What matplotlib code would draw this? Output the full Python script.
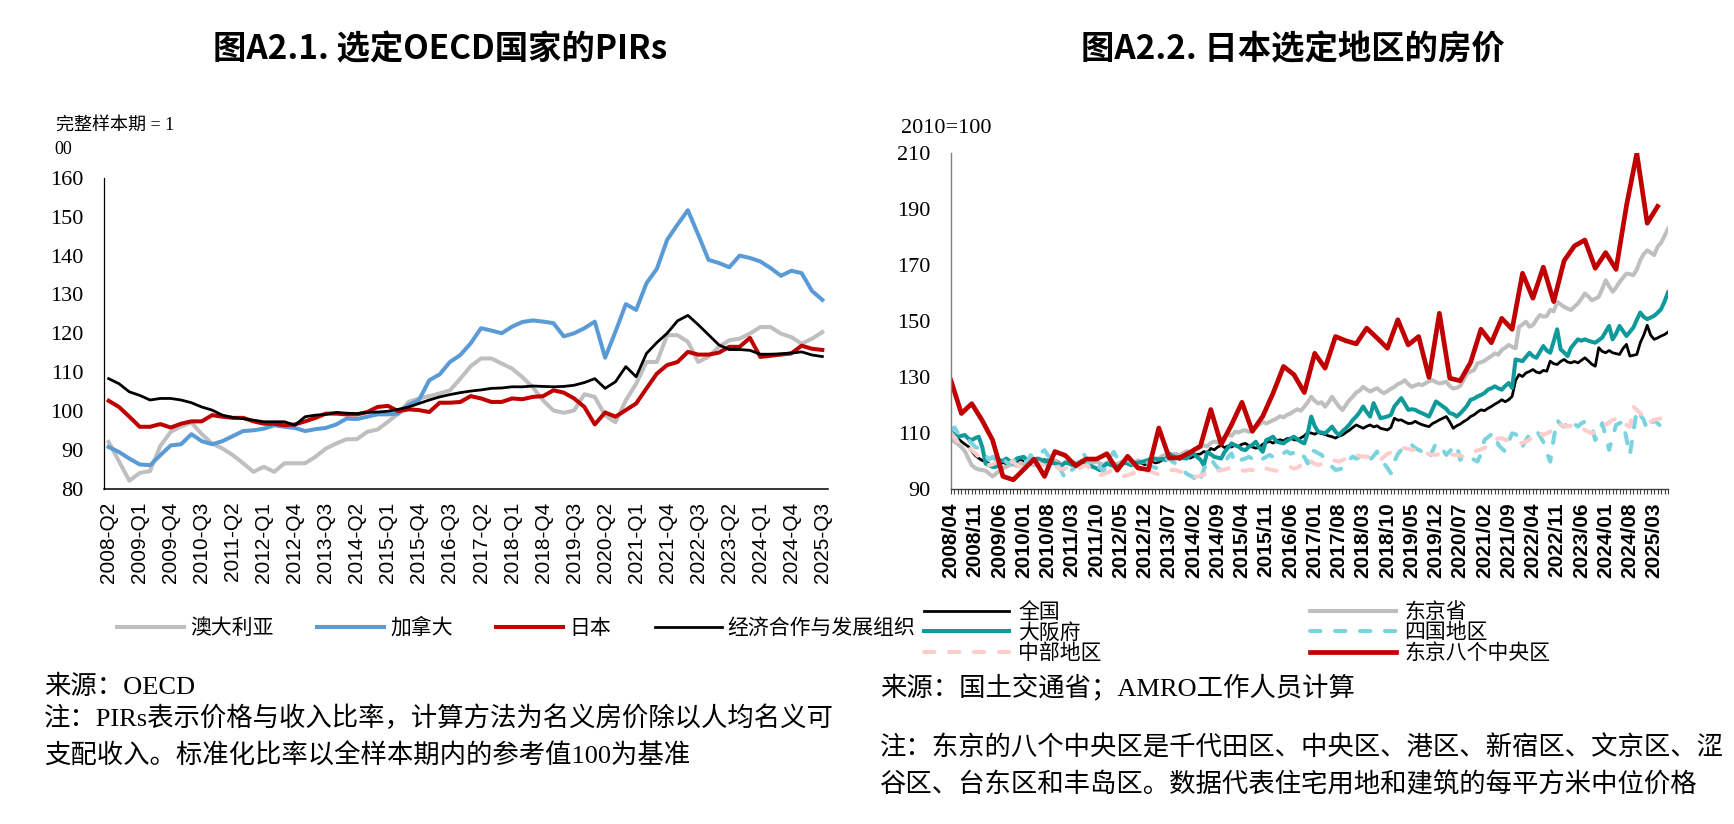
import matplotlib
matplotlib.use("Agg")
import numpy as np
import matplotlib.pyplot as plt

CJK = 'Noto Sans CJK SC'
SERIF_MIX = ['Liberation Serif', CJK]
plt.rcParams['font.family'] = [CJK, 'DejaVu Sans']

# ---------------- data: Fig A2.1 (quarterly, 2008-Q2 .. 2025-Q3) ----------------
left_tick_labels = ['2008-Q2', '2009-Q1', '2009-Q4', '2010-Q3', '2011-Q2', '2012-Q1',
                    '2012-Q4', '2013-Q3', '2014-Q2', '2015-Q1', '2015-Q4', '2016-Q3',
                    '2017-Q2', '2018-Q1', '2018-Q4', '2019-Q3', '2020-Q2', '2021-Q1',
                    '2021-Q4', '2022-Q3', '2023-Q2', '2024-Q1', '2024-Q4', '2025-Q3']
left_names = ['澳大利亚', '加拿大', '日本', '经济合作与发展组织']

australia = [92, 87, 82, 84, 84.5, 91, 94.6, 96, 97, 94,
             91.6, 90.3, 88.6, 86.5, 84.3, 85.6, 84.3, 86.5, 86.5, 86.5,
             88.2, 90.3, 91.6, 92.7, 92.7, 94.6, 95.2, 97.2, 99.3, 102.3,
             103.2, 103.8, 104.5, 105.3, 108.3, 111.5, 113.5, 113.5, 112.2, 110.9,
             108.7, 106.1, 102.7, 100.1, 99.5, 100.1, 104.3, 103.6, 98.8, 97.1,
             102.7, 107, 112.6, 112.6, 119.5, 119.5, 117.8, 112.6, 114.0, 116.5,
             118.2, 118.6, 119.9, 121.6, 121.6, 119.9, 119.0, 117.3, 118.6, 120.3]
canada = [90.7, 89.4, 87.7, 86.2, 86, 88.6, 91.1, 91.4, 94, 92.2,
          91.4, 92.2, 93.5, 94.8, 95, 95.4, 96.3, 95.9, 95.6, 94.8,
          95.3, 95.6, 96.5, 98, 97.9, 98.5, 99.1, 99.1, 99.3, 101.5,
          102.8, 107.9, 109.4, 112.6, 114.4, 117.4, 121.3, 120.7, 120, 121.7,
          122.9, 123.3, 123, 122.6, 119.2, 120, 121.3, 123, 113.7, 120.4,
          127.5, 126, 132.9, 136.6, 144.1, 148, 151.7, 145.4, 138.9, 138.1,
          137, 140, 139.4, 138.5, 136.8, 134.8, 136.1, 135.5, 130.9, 128.6]
japan = [102.6, 101, 98.5, 95.9, 95.9, 96.6, 95.7, 96.7, 97.3, 97.3,
         98.9, 98.5, 98.2, 98.2, 97.3, 96.7, 96.7, 96.3, 96.5, 97.3,
         98.2, 99.3, 99.3, 99.1, 99.1, 99.7, 101, 101.3, 99.9, 100.4,
         100.2, 99.7, 102.1, 102.1, 102.3, 103.8, 103.2, 102.3, 102.3, 103.2,
         103, 103.6, 103.8, 105.3, 104.7, 103.2, 101, 96.5, 99.6, 98.5,
         100.2, 101.9, 105.8, 109.6, 111.8, 112.6, 115.2, 114.5, 114.5, 115,
         116.5, 116.5, 118.8, 113.9, 114.2, 114.5, 114.8, 116.8, 116, 115.7]
oecd = [108.3, 107, 104.9, 104, 102.8, 103.2, 103.2, 102.8, 102.1, 101,
        100.2, 98.9, 98.3, 98, 97.6, 97.2, 97.2, 97.2, 96.3, 98.5,
        98.9, 99.1, 99.6, 99.4, 99.3, 99.6, 99.7, 99.9, 100.4, 101,
        101.9, 102.8, 103.6, 104.2, 104.7, 105.1, 105.4, 105.8, 105.9, 106.2,
        106.2, 106.4, 106.3, 106.2, 106.3, 106.6, 107.3, 108.3, 105.8, 107.5,
        111.4, 108.8, 114.8, 117.6, 120, 123.2, 124.6, 122.2, 119.6, 117,
        115.8, 115.8, 115.6, 114.6, 114.6, 114.7, 114.9, 115.2, 114.4, 114.0]

# ---------------- data: Fig A2.2 (monthly from 2008/04) ----------------
right_tick_labels = ['2008/04', '2008/11', '2009/06', '2010/01', '2010/08', '2011/03',
                     '2011/10', '2012/05', '2012/12', '2013/07', '2014/02', '2014/09',
                     '2015/04', '2015/11', '2016/06', '2017/01', '2017/08', '2018/03',
                     '2018/10', '2019/05', '2019/12', '2020/07', '2021/02', '2021/09',
                     '2022/04', '2022/11', '2023/06', '2024/01', '2024/08', '2025/03']
right_names = ['全国', '东京省', '大阪府', '四国地区', '中部地区', '东京八个中央区']

national = [109.5, 108.8, 108.0, 107.0, 106.0, 105.2, 103.5, 102.0, 101.0, 100.2, 99.8, 99.0,
            98.3, 98.0, 98.8, 99.5, 99.0, 100.2, 99.6, 99.0, 100.4, 99.8, 99.3, 100.6,
            100.0, 99.2, 99.8, 100.5, 99.4, 99.0, 100.2, 99.6, 98.8, 99.5, 100.1, 99.3,
            99.0, 99.8, 100.3, 99.4, 98.9, 99.6, 100.2, 99.1, 98.6, 99.4, 100.0, 99.2,
            98.8, 99.6, 100.1, 99.3, 98.9, 99.5, 99.8, 99.2, 98.7, 99.4, 100.0, 99.3,
            99.6, 100.4, 101.0, 100.6, 101.5, 102.0, 100.6, 101.2, 101.8, 101.0, 101.6, 102.4,
            102.5, 103.4, 102.8, 104.5, 104.0, 105.0, 105.6, 104.8, 105.4, 105.0, 105.8, 105.2,
            106.0, 106.3, 105.5, 105.0, 104.6, 104.9, 106.0, 106.6, 107.0, 106.4, 107.3, 107.6,
            107.2, 108.0, 108.2, 107.6, 107.5, 108.3, 109.0, 110.2, 110.0, 109.6, 110.2, 109.8,
            109.5, 109.0, 108.7, 108.2, 108.9, 109.3, 110.2, 111.0, 112.0, 112.9, 112.3, 111.7,
            112.4, 112.9, 112.2, 112.6, 111.7, 111.4, 111.1, 112.0, 115.3, 114.6, 114.7, 114.0,
            113.4, 113.5, 114.2, 113.5, 113.0, 112.6, 112.3, 113.4, 114.0, 114.7, 115.3, 115.9,
            114.0, 111.7, 112.6, 113.2, 114.1, 114.8, 115.9, 116.5, 117.5, 118.3, 118.0, 118.8,
            119.5, 120.3, 121.0, 121.9, 121.2, 121.9, 123.1, 128.8, 130.9, 130.2, 131.5, 132.0,
            132.7, 131.8, 131.5, 132.4, 132.1, 135.7, 134.8, 134.5, 135.6, 136.3, 135.4, 135.1,
            135.6, 135.1, 136.0, 136.9, 135.8, 134.6, 133.9, 140.5, 139.2, 138.7, 139.5, 138.7,
            138.4, 138.1, 140.2, 141.7, 137.5, 137.8, 138.1, 142.3, 145.0, 148.5, 145.0, 143.5,
            144.0, 144.7, 145.2, 146.1]
tokyo = [107.5, 107.0, 106.0, 105.0, 103.5, 101.0, 98.5, 97.5, 97.0, 96.8, 96.5, 95.5,
         94.5, 95.5, 96.5, 97.5, 98.0, 98.5, 99.0, 98.2, 99.4, 98.8, 99.6, 99.0,
         98.5, 99.3, 99.8, 99.0, 98.6, 99.5, 100.0, 99.2, 98.8, 99.6, 100.2, 99.4,
         98.9, 99.5, 100.0, 99.2, 98.7, 99.4, 99.9, 99.1, 98.6, 99.3, 99.8, 99.0,
         98.7, 99.4, 99.9, 99.1, 98.9, 99.6, 100.2, 99.5, 99.8, 100.6, 101.0, 100.4,
         101.0, 101.8, 102.2, 101.6, 102.3, 102.6, 102.0, 102.8, 103.5, 103.0, 104.0, 104.4,
         105.0, 105.6, 105.2, 106.5, 107.0, 106.6, 108.0, 108.6, 109.5, 109.0, 110.5, 110.2,
         110.8, 111.0, 110.4, 111.5, 112.0, 113.0, 114.0, 113.4, 114.0, 114.6, 115.2, 116.0,
         115.6, 116.5, 117.0, 117.8, 118.5, 118.0, 119.4, 121.0, 123.0, 121.5, 120.6, 121.0,
         119.4, 121.0, 123.0, 121.2, 119.5, 118.2, 120.0, 121.8, 123.0, 124.5, 125.2, 126.5,
         125.6, 124.8, 125.5, 126.0, 125.0, 124.2, 125.0, 125.8, 126.5, 127.5, 128.0, 128.9,
         127.5, 126.5, 127.0, 127.5, 127.1, 127.8, 128.5, 128.9, 128.2, 127.7, 128.0, 128.3,
         126.8, 125.9, 126.2, 126.8, 129.0, 131.3, 132.0, 132.5, 134.9, 135.3, 135.8, 136.7,
         137.5, 138.5, 138.0, 139.7, 140.5, 141.5, 140.8, 140.3, 148.0, 148.8, 149.8, 148.0,
         148.6, 150.5, 152.2, 151.6, 151.8, 154.0, 153.5, 156.9, 156.0, 155.1, 154.5, 154.0,
         155.2, 156.3, 158.0, 159.9, 158.8, 157.5, 158.0, 158.7, 161.5, 164.6, 162.5, 160.5,
         162.0, 164.0, 165.5, 167.0, 166.8, 166.4, 168.5, 171.8, 174.0, 175.3, 174.5, 173.6,
         176.6, 178.0, 180.5, 183.0]
osaka = [110.5, 109.5, 108.7, 109.0, 109.3, 108.0, 107.5, 108.2, 108.7, 105.1, 99.1, 98.5,
         97.9, 97.9, 100.3, 100.0, 100.9, 99.8, 99.1, 100.9, 101.2, 101.5, 100.2, 99.1,
         100.0, 100.9, 100.5, 99.8, 100.3, 99.6, 99.1, 98.8, 98.5, 99.4, 99.1, 98.6,
         99.2, 99.1, 99.7, 99.0, 98.4, 97.9, 97.4, 96.7, 98.0, 99.1, 98.6, 98.2,
         97.9, 98.6, 99.3, 99.1, 98.5, 99.1, 99.4, 99.7, 100.0, 100.3, 100.6, 100.9,
         100.5, 100.8, 100.3, 102.7, 101.8, 101.2, 101.5, 101.0, 100.9, 102.0, 102.7, 101.5,
         100.5, 98.5, 103.3, 102.4, 101.5, 101.2, 100.9, 103.3, 104.8, 106.3, 105.6, 105.1,
         104.2, 103.9, 105.1, 105.8, 106.9, 104.8, 103.3, 107.5, 108.0, 108.7, 106.9, 106.6,
         106.3, 107.2, 108.0, 108.7, 107.8, 106.9, 106.3, 110.0, 115.9, 112.5, 110.5, 110.2,
         109.9, 111.0, 112.3, 110.5, 109.3, 110.6, 111.7, 113.0, 114.7, 115.9, 117.5, 119.5,
         117.5, 115.9, 120.7, 118.0, 115.3, 115.6, 115.9, 116.5, 119.5, 121.0, 122.5, 120.5,
         118.3, 118.5, 118.3, 117.6, 117.1, 116.5, 115.9, 118.5, 121.3, 120.4, 119.5, 118.6,
         117.1, 116.8, 115.9, 117.0, 118.3, 119.8, 121.9, 122.3, 123.1, 123.6, 124.3, 125.5,
         126.0, 126.7, 126.0, 125.5, 126.8, 127.9, 126.1, 136.3, 136.0, 135.7, 137.2, 138.7,
         137.5, 136.9, 139.0, 141.1, 139.5, 138.7, 142.8, 147.1, 139.9, 138.8, 137.5, 140.5,
         142.0, 143.5, 143.0, 143.5, 143.0, 142.6, 142.3, 143.2, 144.1, 146.2, 148.3, 143.5,
         145.5, 148.3, 146.5, 144.7, 146.2, 147.7, 150.5, 153.1, 151.5, 150.7, 151.3, 151.9,
         153.0, 154.3, 157.0, 160.3]
shikoku = [111.0, 112.0, 110.0, 109.5, 108.7, 107.5, 106.3, 105.0, 104.5, 104.0, 102.0, 100.5,
           101.5, 100.0, 101.2, 100.9, 99.5, 99.1, 100.0, 101.0, 101.5, 100.4, 99.6, 102.1,
           101.0, 102.5, 103.0, 103.9, 102.0, 101.5, 100.9, 98.5, 96.0, 93.7, 95.5, 97.0,
           97.9, 100.5, 103.3, 101.0, 98.0, 96.7, 97.5, 98.0, 96.1, 99.0, 101.5, 103.3,
           101.0, 100.0, 99.1, 100.5, 99.5, 98.5, 98.5, 99.6, 100.0, 99.1, 98.0, 97.6,
           97.3, 98.8, 100.3, 101.0, 99.6, 99.1, 98.0, 96.7, 95.5, 94.8, 94.3, 91.9,
           93.5, 97.0, 99.5, 100.9, 99.0, 97.5, 96.7, 99.0, 101.5, 102.7, 99.1, 99.8,
           100.5, 100.9, 101.5, 100.8, 100.3, 99.5, 100.8, 101.5, 102.2, 101.4, 100.9, 102.0,
           102.8, 103.5, 102.6, 103.0, 103.9, 102.0, 101.5, 99.1, 104.0, 103.5, 102.8, 102.2,
           100.5, 99.8, 98.0, 96.8, 97.0, 97.4, 99.0, 100.5, 101.6, 100.8, 101.5, 102.2,
           101.4, 100.4, 101.8, 103.4, 100.5, 99.2, 97.5, 95.6, 99.8, 102.5, 104.0, 105.2,
           104.8, 105.8, 104.6, 104.0, 103.4, 102.0, 101.0, 103.5, 106.4, 105.2, 104.0, 102.2,
           103.5, 104.8, 105.8, 100.4, 101.5, 102.0, 101.0, 100.5, 99.8, 102.5, 107.5, 108.5,
           109.5, 109.9, 105.8, 104.5, 103.4, 107.0, 109.9, 109.5, 108.7, 105.2, 107.5, 109.5,
           110.5, 111.1, 109.0, 106.9, 103.0, 99.8, 108.0, 114.7, 113.0, 112.3, 113.5, 114.7,
           113.2, 112.3, 113.5, 114.1, 113.0, 112.3, 107.5, 110.0, 113.5, 109.0, 104.0, 108.5,
           112.9, 113.5, 114.1, 108.0, 102.2, 110.5, 118.3, 116.5, 114.7, 111.1, 113.0, 114.7,
           113.5, 112.3, 111.0, 109.9]
chubu = [109.9, 108.5, 106.9, 105.8, 105.0, 104.5, 103.9, 102.8, 101.5, 100.5, 99.5, 98.5,
         98.8, 99.5, 99.1, 99.8, 100.5, 100.3, 99.5, 98.6, 97.9, 98.5, 99.2, 98.8,
         99.1, 99.5, 98.8, 98.4, 99.0, 99.1, 98.2, 97.5, 97.0, 97.3, 97.8, 98.2,
         97.9, 97.4, 98.0, 98.5, 97.6, 96.5, 95.8, 94.9, 95.3, 95.8, 96.4, 96.1,
         95.5, 95.0, 94.6, 94.9, 95.4, 95.8, 95.2, 95.5, 95.9, 96.3, 96.1, 95.6,
         95.2, 95.5, 96.0, 96.4, 96.9, 96.7, 96.2, 96.1, 95.6, 95.0, 94.6, 94.3,
         94.8, 95.2, 95.8, 95.5, 96.2, 96.5, 96.7, 97.0, 97.4, 97.3, 96.8, 97.0,
         96.7, 96.5, 96.9, 96.7, 97.2, 97.6, 97.9, 97.4, 97.0, 96.8, 96.5, 96.7,
         97.0, 97.4, 97.8, 97.3, 97.6, 98.5, 100.4, 99.8, 99.8, 99.0, 98.6, 98.9,
         99.2, 99.8, 100.4, 100.1, 99.8, 100.4, 100.8, 101.0, 101.6, 102.2, 101.8, 101.6,
         101.6, 101.3, 101.0, 100.7, 100.4, 101.5, 102.5, 103.2, 104.0, 104.3, 104.6, 104.6,
         104.3, 104.0, 104.0, 103.5, 103.0, 102.8, 102.5, 102.3, 102.2, 102.5, 102.8, 102.8,
         102.5, 102.2, 102.2, 101.9, 101.6, 102.2, 102.8, 103.4, 103.8, 104.2, 104.6, 105.8,
         107.0, 107.6, 108.0, 108.2, 107.6, 107.3, 107.0, 106.7, 106.5, 106.4, 107.0, 107.6,
         109.0, 110.5, 109.9, 109.3, 109.9, 110.5, 112.0, 113.5, 113.0, 112.6, 112.3, 112.6,
         112.9, 112.3, 111.7, 111.1, 110.5, 109.9, 110.5, 111.1, 112.0, 112.9, 113.8, 114.7,
         115.0, 115.3, 114.0, 112.9, 112.3, 119.5, 118.3, 117.1, 115.5, 113.5, 114.0, 114.7,
         115.0, 115.3, 115.6, 115.9]
# Tokyo 8 central wards: quarterly observations (every 3rd month from 2008/04)
tokyo8 = [128.7, 117, 120.5, 114.5, 107.5, 94.5, 93.3, 97, 100.7, 94.5,
          103.4, 102, 98.3, 100.7, 100.7, 102.6, 96.7, 101.7, 97.5, 96.9,
          111.8, 101.1, 101.1, 103.1, 105.3, 118.4, 105.9, 113, 121, 110.6,
          116, 124.3, 133.8, 130.9, 124.5, 138.5, 133.2, 144.5, 143, 141.9,
          147.5, 144, 140.3, 150.5, 141.5, 144.5, 129.9, 152.8, 129.6, 128.7,
          135.2, 147.1, 142.3, 151, 147.1, 167.1, 158.2, 169.3, 157, 171.6,
          176.9, 179, 168.9, 174.5, 168.5, 191.2, 210, 185, 191]

# ---------------- figure ----------------
W, H = 1734, 824
fig = plt.figure(figsize=(W / 100, H / 100), dpi=100)
fig.patch.set_facecolor('white')


def fx(px):
    return px / W


def fy(py):
    return 1 - py / H


# ---------- left chart ----------
axL = fig.add_axes([fx(103.5), fy(488.5), (827.5 - 103.5) / W, (488.5 - 178) / H])
xq = np.arange(len(australia))
axL.plot(xq, australia, color='#BFBFBF', lw=2.9, label=left_names[0], solid_joinstyle='round')
axL.plot(xq, canada, color='#5B9BD5', lw=2.9, label=left_names[1], solid_joinstyle='round')
axL.plot(xq, japan, color='#C00000', lw=2.9, label=left_names[2], solid_joinstyle='round')
axL.plot(xq, oecd, color='black', lw=2.0, label=left_names[3], solid_joinstyle='round')
axL.set_xlim(-0.5, len(australia) - 0.5)
axL.set_ylim(80, 160)
axL.set_yticks(np.arange(80, 161, 10))
axL.set_xticks(np.arange(0, len(australia), 3))
axL.set_xticklabels(left_tick_labels, rotation=90, fontfamily='Liberation Sans', fontsize=15)
for lab in axL.get_yticklabels():
    lab.set_fontfamily('Liberation Serif')
    lab.set_fontsize(16)
axL.tick_params(axis='x', length=0, pad=9.5)
axL.tick_params(axis='y', length=0, pad=14.5)
for s in ['top', 'right']:
    axL.spines[s].set_visible(False)
axL.spines['left'].set_color('black')
axL.spines['left'].set_linewidth(0.9)
axL.spines['bottom'].set_color('black')
axL.spines['bottom'].set_linewidth(1.1)

legL = fig.legend(handles=axL.get_lines(), loc='center left',
                  bbox_to_anchor=(fx(117), fy(628)), ncol=4, frameon=False,
                  borderpad=0, borderaxespad=0, handlelength=3.2, handletextpad=0.3,
                  columnspacing=2.1, prop={'family': CJK, 'size': 15})

# ---------- right chart ----------
axR = fig.add_axes([fx(951), fy(489), (1668 - 951) / W, (489 - 153.3) / H])
xm = np.arange(len(national))
l_nat, = axR.plot(xm, national, color='black', lw=2.0, label=right_names[0], solid_joinstyle='round')
l_tok, = axR.plot(np.arange(len(tokyo)), tokyo, color='#BFBFBF', lw=2.9, label=right_names[1], solid_joinstyle='round')
l_osa, = axR.plot(np.arange(len(osaka)), osaka, color='#0E9A9A', lw=2.9, label=right_names[2], solid_joinstyle='round')
l_shi, = axR.plot(np.arange(len(shikoku)), shikoku, color='#7AD3DF', lw=2.9, label=right_names[3],
                  linestyle=(0, (2.6, 3.6)), dash_capstyle='round')
l_chu, = axR.plot(np.arange(len(chubu)), chubu, color='#FFCCCC', lw=2.9, label=right_names[4],
                  linestyle=(0, (2.6, 3.6)), dash_capstyle='round')
l_t8, = axR.plot(np.arange(len(tokyo8)) * 3, tokyo8, color='#C00000', lw=3.4, label=right_names[5],
                 solid_joinstyle='round')
axR.set_xlim(0, len(national) - 1)
axR.set_ylim(90, 210)
axR.set_yticks(np.arange(90, 211, 20))
axR.set_xticks(np.arange(0, len(national), 7)[:len(right_tick_labels)])
axR.set_xticklabels(right_tick_labels, rotation=90, fontfamily='Liberation Sans',
                    fontsize=15, fontweight='bold')
axR.set_xticks(np.arange(len(national)), minor=True)
for lab in axR.get_yticklabels():
    lab.set_fontfamily('Liberation Serif')
    lab.set_fontsize(16)
axR.tick_params(axis='x', which='both', length=3.8, width=0.8, direction='out',
                color='#404040', pad=6)
axR.tick_params(axis='y', length=0, pad=15)
for s in ['top', 'right']:
    axR.spines[s].set_visible(False)
axR.spines['left'].set_color('#808080')
axR.spines['left'].set_linewidth(1.0)
axR.spines['bottom'].set_color('#404040')
axR.spines['bottom'].set_linewidth(1.0)

legR = fig.legend(handles=[l_nat, l_osa, l_chu, l_tok, l_shi, l_t8], loc='center left',
                  bbox_to_anchor=(fx(924), fy(632.5)), ncol=2, frameon=False,
                  borderpad=0, borderaxespad=0, handlelength=4.1, handletextpad=0.43,
                  columnspacing=10.0, labelspacing=-0.08, prop={'family': CJK, 'size': 15})

# ---------- titles and texts ----------
fig.text(fx(440), fy(50), '图A2.1. 选定OECD国家的PIRs', ha='center', va='center',
         fontsize=24, fontweight='bold', family=CJK)
fig.text(fx(1293), fy(50), '图A2.2. 日本选定地区的房价', ha='center', va='center',
         fontsize=24, fontweight='bold', family=CJK)

fig.text(fx(56), fy(125), '完整样本期 = 1', ha='left', va='center', fontsize=13, family=SERIF_MIX)
fig.text(fx(54), fy(149), '00', ha='left', va='center', fontsize=13, family=SERIF_MIX)
fig.text(fx(901), fy(128.5), '2010=100', ha='left', va='center', fontsize=16, family='Liberation Serif')

note_kw = dict(ha='left', va='center', fontsize=19, family=SERIF_MIX, fontweight='light')
fig.text(fx(44), fy(687), '来源：OECD', **note_kw)
fig.text(fx(44), fy(718), '注：PIRs表示价格与收入比率，计算方法为名义房价除以人均名义可', **note_kw)
fig.text(fx(44), fy(756), '支配收入。标准化比率以全样本期内的参考值100为基准', **note_kw)
fig.text(fx(880), fy(688), '来源：国土交通省；AMRO工作人员计算', **note_kw)
fig.text(fx(880), fy(748), '注：东京的八个中央区是千代田区、中央区、港区、新宿区、文京区、涩', **note_kw)
fig.text(fx(880), fy(785), '谷区、台东区和丰岛区。数据代表住宅用地和建筑的每平方米中位价格', **note_kw)

fig.savefig('out.png', dpi=100, facecolor='white')
